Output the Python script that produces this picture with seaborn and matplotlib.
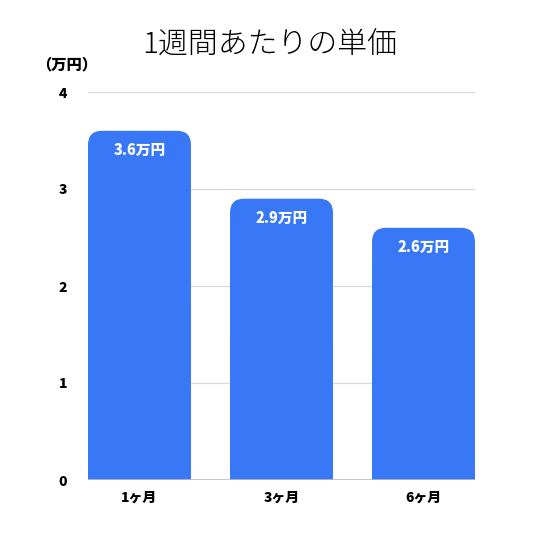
import seaborn as sns
import matplotlib.pyplot as plt
from matplotlib.patches import FancyBboxPatch, Rectangle
import pandas as pd

# chart data
periods = ['1ヶ月', '3ヶ月', '6ヶ月']
prices = [3.6, 2.9, 2.6]
bar_labels = ['3.6万円', '2.9万円', '2.6万円']
y_ticks = [0, 1, 2, 3, 4]

df = pd.DataFrame({'period': periods, 'price': prices})

sns.set_style('white')
plt.rcParams['font.family'] = ['Noto Sans CJK JP', 'DejaVu Sans']

blue = '#3878F7'

fig = plt.figure(figsize=(5.55, 5.5), dpi=100)
ax = fig.add_axes([88 / 555, 70 / 550, 387 / 555, 388 / 550])

sns.barplot(data=df, x='period', y='price', color=blue, width=0.725,
            saturation=1, ax=ax)
ax.set_xlim(-0.3625, 2.3625)
ax.set_ylim(0, 4)

# swap plain bars for bars with rounded tops
px_x = 387 / 2.725
px_y = 388 / 4
r = 14 / px_x
aspect = px_x / px_y
for p in list(ax.patches):
    x, w, h = p.get_x(), p.get_width(), p.get_height()
    p.set_visible(False)
    ax.add_patch(FancyBboxPatch((x, 0), w, h,
                                boxstyle=f'round,pad=0,rounding_size={r}',
                                mutation_aspect=aspect, fc=blue, ec='none', zorder=3))
    ax.add_patch(Rectangle((x, 0), w, h / 2, fc=blue, ec='none', zorder=3))

for i, (v, lab) in enumerate(zip(prices, bar_labels)):
    ax.text(i, v - 0.2, lab, ha='center', va='center', color='white',
            fontsize=10.5, fontweight='heavy', zorder=4)

ax.set_yticks(y_ticks)
ax.set_yticklabels([str(t) for t in y_ticks], fontsize=10, fontweight='heavy',
                   color='black')
for t in ax.get_xticklabels():
    t.set_fontsize(10)
    t.set_fontweight('heavy')
    t.set_color('black')
ax.tick_params(axis='both', length=0)
ax.tick_params(axis='y', pad=15)
ax.tick_params(axis='x', pad=8)
ax.set_xlabel('')
ax.set_ylabel('')

for y in y_ticks[1:]:
    ax.axhline(y, color='#d9d9d9', lw=0.9, zorder=1)
ax.axhline(0, color='#b8bcc4', lw=1.2, zorder=5)
sns.despine(ax=ax, left=True, bottom=True)

fig.text(270 / 555, 1 - 45 / 550, '1週間あたりの単価', ha='center', va='center',
         fontsize=21.5, fontweight='light', color='black')
fig.text(67 / 555, 1 - 65 / 550, '（万円）', ha='center', va='center',
         fontsize=11, fontweight='heavy', color='black')

fig.savefig('out.png', dpi=100, facecolor='white')
